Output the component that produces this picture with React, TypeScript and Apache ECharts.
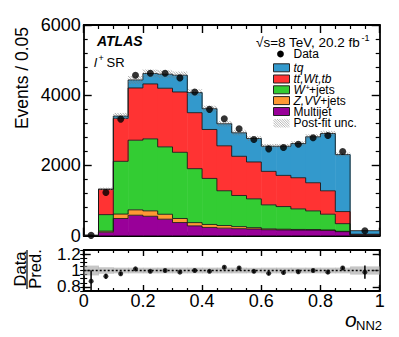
import React, { useEffect, useRef } from "react";
import * as echarts from "echarts";

const FONT = '"Liberation Sans", Arial, Helvetica, sans-serif';

// Bin edges of o_NN2 (last bin is 0.9-1.0)
const binEdges = [0, 0.05, 0.1, 0.15, 0.2, 0.25, 0.3, 0.35, 0.4, 0.45, 0.5, 0.55, 0.6, 0.65, 0.7, 0.75, 0.8, 0.85, 0.9, 1.0];

// Stacked predictions (events / 0.05)
const multijet = [3, 100, 490, 583, 553, 470, 375, 280, 235, 215, 200, 191, 170, 163, 160, 160, 150, 115, 10];
const zvvJets = [1, 30, 125, 153, 154, 140, 115, 92, 85, 75, 58, 38, 25, 22, 18, 15, 12, 10, 3];
const wJets = [2, 470, 1503, 1983, 2051, 1920, 1885, 1537, 1311, 990, 887, 821, 684, 645, 586, 532, 450, 218, 10];
const ttWtTb = [3, 720, 1222, 1488, 1564, 1669, 1718, 1594, 1394, 1280, 1116, 1050, 953, 887, 887, 801, 667, 344, 20];
const tqSig = [3, 5, 66, 229, 297, 400, 477, 572, 592, 628, 669, 668, 715, 830, 974, 1308, 1632, 1623, 100];

const dataEvents = [10, 1232, 3320, 4570, 4628, 4628, 4494, 4093, 3598, 3331, 3045, 2739, 2473, 2510, 2604, 2788, 2854, 2396, 140];
const postFitUnc = [2, 40, 90, 110, 110, 110, 100, 95, 85, 80, 75, 70, 65, 65, 65, 70, 70, 60, 6];

// Ratio panel
const ratioValues = [0.87, 0.93, 0.96, 1.02, 0.99, 1.0, 0.98, 1.0, 0.99, 1.04, 1.03, 0.99, 0.965, 0.975, 0.985, 1.0, 0.98, 1.03, 0.98];
const ratioErrors = [0.13, 0.03, 0.02, 0.015, 0.015, 0.015, 0.015, 0.015, 0.017, 0.017, 0.018, 0.019, 0.02, 0.02, 0.02, 0.019, 0.019, 0.02, 0.08];
const ratioBand = [0.06, 0.04, 0.035, 0.035, 0.035, 0.035, 0.035, 0.035, 0.035, 0.035, 0.035, 0.035, 0.035, 0.035, 0.035, 0.035, 0.035, 0.035, 0.05];

const ratioTickLabels = [0.8, 1, 1.2];

const layerDefs = [
  { name: "Multijet", values: multijet, color: "#990099" },
  { name: "Z,VV+jets", values: zvvJets, color: "#ff9933" },
  { name: "W+jets", values: wJets, color: "#33cc33" },
  { name: "tt,Wt,tb", values: ttWtTb, color: "#ff3333" },
  { name: "tq", values: tqSig, color: "#3399cc" },
];

export default function App() {
  const ref = useRef<HTMLDivElement>(null);

  useEffect(() => {
    const chart = echarts.init(ref.current!, undefined, { renderer: "svg" });
    const nBins = binEdges.length - 1;
    const centers = binEdges.slice(0, -1).map((e, i) => (e + binEdges[i + 1]) / 2);

    const series: any[] = [];
    let base = new Array(nBins).fill(0);
    const layerData: any[] = [];
    layerDefs.forEach((L) => {
      const bottoms = base;
      const tops = bottoms.map((b: number, i: number) => b + L.values[i]);
      base = tops;
      const d = tops.map((t: number, i: number) => [binEdges[i], binEdges[i + 1], bottoms[i], t, i + 1 < nBins ? tops[i + 1] : 0]);
      layerData.push(d);
      series.push({
        type: "custom", name: L.name, xAxisIndex: 0, yAxisIndex: 0, z: 2, clip: true, silent: true,
        data: d,
        renderItem: (_p: any, api: any) => {
          const tl = api.coord([api.value(0), api.value(3)]);
          const br = api.coord([api.value(1), api.value(2)]);
          return { type: "rect", shape: { x: tl[0], y: tl[1], width: br[0] - tl[0] + 0.5, height: br[1] - tl[1] }, style: { fill: L.color } };
        },
      });
    });
    layerData.forEach((d) => {
      series.push({
        type: "custom", xAxisIndex: 0, yAxisIndex: 0, z: 3, clip: true, silent: true,
        data: d,
        renderItem: (_p: any, api: any) => {
          const tl = api.coord([api.value(0), api.value(3)]);
          const br = api.coord([api.value(1), api.value(2)]);
          const nx = api.coord([api.value(1), api.value(4)]);
          const st = { stroke: "rgba(20,20,20,0.85)", lineWidth: 1 };
          return {
            type: "group", children: [
              { type: "line", shape: { x1: tl[0], y1: tl[1], x2: br[0], y2: tl[1] }, style: st },
              { type: "line", shape: { x1: br[0], y1: tl[1], x2: br[0], y2: nx[1] }, style: st },
            ],
          };
        },
      });
    });

    // post-fit uncertainty hatch
    const totals = base;
    series.push({
      type: "custom", xAxisIndex: 0, yAxisIndex: 0, z: 4, clip: true, silent: true,
      data: totals.map((t: number, i: number) => [binEdges[i], binEdges[i + 1], t - postFitUnc[i], t + postFitUnc[i]]),
      renderItem: (_p: any, api: any) => {
        const tl = api.coord([api.value(0), api.value(3)]);
        const br = api.coord([api.value(1), api.value(2)]);
        const x0 = tl[0], x1 = br[0], yT = tl[1], yB = br[1];
        const h = yB - yT;
        const children: any[] = [];
        if (h > 0.5) {
          for (let s = x0 - h; s < x1; s += 2.6) {
            const ta = Math.max(0, (x0 - s) / h);
            const tb = Math.min(1, (x1 - s) / h);
            if (tb <= ta) continue;
            children.push({
              type: "line",
              shape: { x1: s + ta * h, y1: yT + ta * h, x2: s + tb * h, y2: yT + tb * h },
              style: { stroke: "rgba(120,120,120,0.9)", lineWidth: 0.7 },
            });
          }
        }
        return { type: "group", children };
      },
    });

    series.push({
      type: "scatter", xAxisIndex: 0, yAxisIndex: 0, z: 6, silent: true,
      symbol: "circle", symbolSize: 7, itemStyle: { color: "#000" },
      data: centers.map((c, i) => [c, dataEvents[i]]),
    });

    // ratio panel
    series.push({
      type: "custom", xAxisIndex: 2, yAxisIndex: 2, z: 2, clip: true, silent: true,
      data: centers.map((_c, i) => [binEdges[i], binEdges[i + 1], 1 - ratioBand[i], 1 + ratioBand[i]]),
      renderItem: (_p: any, api: any) => {
        const tl = api.coord([api.value(0), api.value(3)]);
        const br = api.coord([api.value(1), api.value(2)]);
        return { type: "rect", shape: { x: tl[0], y: tl[1], width: br[0] - tl[0] + 0.5, height: br[1] - tl[1] }, style: { fill: "rgba(160,160,160,0.6)" } };
      },
    });
    series.push({
      type: "line", xAxisIndex: 2, yAxisIndex: 2, z: 3, silent: true, symbol: "none",
      data: [[0, 1], [1, 1]],
      lineStyle: { color: "#000", width: 1.5, type: [2, 2] },
    });
    series.push({
      type: "custom", xAxisIndex: 2, yAxisIndex: 2, z: 4, clip: true, silent: true,
      data: centers.map((c, i) => [c, ratioValues[i] - ratioErrors[i], ratioValues[i] + ratioErrors[i]]),
      renderItem: (_p: any, api: any) => {
        const a = api.coord([api.value(0), api.value(1)]);
        const b = api.coord([api.value(0), api.value(2)]);
        return { type: "line", shape: { x1: a[0], y1: a[1], x2: b[0], y2: b[1] }, style: { stroke: "#000", lineWidth: 1.5 } };
      },
    });
    series.push({
      type: "scatter", xAxisIndex: 2, yAxisIndex: 2, z: 5, silent: true,
      symbol: "circle", symbolSize: 5, itemStyle: { color: "#000" },
      data: centers.map((c, i) => [c, ratioValues[i]]),
    });

    const lineStyle = { color: "#000", width: 1.8 };
    const tickStyle = { color: "#000", width: 1.4 };
    const xAx = (grid: number, pos: string, labels: boolean) => ({
      type: "value", gridIndex: grid, position: pos, min: 0, max: 1, interval: 0.2,
      axisLine: { show: true, onZero: false, lineStyle },
      axisTick: { show: true, inside: true, length: grid === 0 ? 8 : 6, lineStyle: tickStyle },
      minorTick: { show: true, splitNumber: 4, length: grid === 0 ? 4 : 3, lineStyle: { color: "#000", width: 1.2 } },
      splitLine: { show: false }, minorSplitLine: { show: false },
      axisLabel: labels
        ? { show: true, fontSize: 18, fontFamily: FONT, color: "#000", margin: 1, formatter: (v: number) => String(Math.round(v * 10) / 10) }
        : { show: false },
    });
    const yMain = (pos: string, labels: boolean) => ({
      type: "value", gridIndex: 0, position: pos, min: 0, max: 6000, interval: 2000,
      axisLine: { show: true, onZero: false, lineStyle },
      axisTick: { show: true, inside: true, length: 8, lineStyle: tickStyle },
      minorTick: { show: true, splitNumber: 5, length: 4, lineStyle: { color: "#000", width: 1.2 } },
      splitLine: { show: false }, minorSplitLine: { show: false },
      axisLabel: labels
        ? { show: true, fontSize: 18, fontFamily: FONT, color: "#000", margin: 3, formatter: (v: number) => String(Math.round(v)) }
        : { show: false },
    });
    const yRatioMajor = (pos: string) => ({
      type: "value", gridIndex: 1, position: pos, min: 0.75, max: 1.25, interval: 0.05,
      axisLine: { show: true, onZero: false, lineStyle },
      axisTick: { show: true, inside: true, length: 7, customValues: ratioTickLabels, lineStyle: tickStyle },
      splitLine: { show: false },
      axisLabel: { show: false },
    });
    const isMajor = (v: number) => ratioTickLabels.some((m) => Math.abs(m - v) < 1e-6);
    const yRatioMinor = (pos: string, labels: boolean) => ({
      type: "value", gridIndex: 1, position: pos, min: 0.75, max: 1.25, interval: 0.05,
      axisLine: { show: false },
      axisTick: { show: true, inside: true, length: 3.5, lineStyle: { color: "#000", width: 1.1 } },
      splitLine: { show: false },
      axisLabel: labels
        ? { show: true, fontSize: 17, lineHeight: 15, fontFamily: FONT, color: "#000", margin: 3, hideOverlap: false,
            showMinLabel: false, showMaxLabel: false,
            formatter: (v: number) => (isMajor(v) ? (Math.abs(v - 1) < 1e-6 ? "1" : v.toFixed(1)) : "") }
        : { show: false },
    });

    const t = (x: number, y: number, text: string, o: any = {}, extra: any = {}) => ({
      type: "text", x, y, silent: true, ...extra,
      style: {
        text, fill: "#000", fontFamily: FONT, fontSize: 13,
        align: "left", textAlign: "left", verticalAlign: "middle", textVerticalAlign: "middle", ...o,
      },
    });

    const legendRows = [
      { y: 67.8, color: "#3399cc" },
      { y: 79, color: "#ff3333" },
      { y: 89.8, color: "#33cc33" },
      { y: 100.6, color: "#ff9933" },
      { y: 111.5, color: "#990099" },
    ];
    const hatchBox: any[] = [];
    {
      const x0 = 273.5, x1 = 289.5, yT = 119, h = 8.5;
      for (let s = x0 - h; s < x1; s += 2.4) {
        const ta = Math.max(0, (x0 - s) / h);
        const tb = Math.min(1, (x1 - s) / h);
        if (tb <= ta) continue;
        hatchBox.push({ type: "line", silent: true, shape: { x1: s + ta * h, y1: yT + ta * h, x2: s + tb * h, y2: yT + tb * h }, style: { stroke: "rgba(140,140,140,0.9)", lineWidth: 0.7 } });
      }
    }
    const LF = 12;
    const LH = 10.5;

    const graphic: any[] = [
      t(22, 78, "Events / 0.05", { fontSize: 17.5, align: "center", textAlign: "center" }, { rotation: Math.PI / 2 }),
      t(19.5, 269, "Data", { fontSize: 16.5, align: "center", textAlign: "center" }, { rotation: Math.PI / 2 }),
      t(35, 269, "Pred.", { fontSize: 16.5, align: "center", textAlign: "center" }, { rotation: Math.PI / 2 }),
      { type: "line", silent: true, shape: { x1: 27, y1: 250, x2: 27, y2: 289 }, style: { stroke: "#000", lineWidth: 1.2 } },
      t(345, 319, "o", { fontSize: 21, fontStyle: "italic" }),
      t(356, 325.5, "NN2", { fontSize: 13 }),
      t(97, 41, "ATLAS", { fontSize: 14, fontWeight: "bold", fontStyle: "italic" }),
      t(94, 62, "l", { fontSize: 13, fontStyle: "italic" }),
      t(98.5, 58, "+", { fontSize: 9 }),
      t(106.5, 62, "SR", { fontSize: 13 }),
      t(256, 42, "\u221As=8 TeV, 20.2 fb", { fontSize: 13.5 }),
      t(361.5, 37.5, "-1", { fontSize: 9 }),
      { type: "circle", silent: true, shape: { cx: 280.5, cy: 54, r: 3.4 }, style: { fill: "#000" } },
      t(293.5, 53.5, "Data", { fontSize: LF, lineHeight: LH }),
      ...legendRows.map((r) => ({ type: "rect", silent: true, shape: { x: 273.5, y: r.y - 4, width: 16, height: 8 }, style: { fill: r.color, stroke: "#222", lineWidth: 1 } })),
      t(293.5, 67.5, "tq", { fontSize: LF, lineHeight: LH, fontStyle: "italic" }),
      t(293.5, 78.8, "tt,Wt,tb", { fontSize: LF, lineHeight: LH, fontStyle: "italic" }),
      t(293.5, 89.8, "W", { fontSize: LF, lineHeight: LH, fontStyle: "italic" }),
      t(305.5, 87, "+", { fontSize: 7.5, lineHeight: 7 }),
      t(309, 89.8, "+jets", { fontSize: LF, lineHeight: LH }),
      t(293.5, 100.6, "{i|Z,VV}{n|+jets}", {
        fontSize: LF, lineHeight: LH,
        rich: { i: { fontSize: LF, lineHeight: LH, fontStyle: "italic", fontFamily: FONT }, n: { fontSize: LF, lineHeight: LH, fontFamily: FONT } },
      }),
      t(293.5, 111.5, "Multijet", { fontSize: LF, lineHeight: LH }),
      ...hatchBox,
      t(293.5, 123, "Post-fit unc.", { fontSize: LF, lineHeight: LH }),
    ];

    const option: any = {
      animation: false,
      backgroundColor: "#fff",
      grid: [
        { left: 83.7, top: 25, width: 296, height: 210.7 },
        { left: 83.7, top: 250, width: 296, height: 41 },
      ],
      xAxis: [xAx(0, "bottom", false), xAx(0, "top", false), xAx(1, "bottom", true), xAx(1, "top", false)],
      yAxis: [yMain("left", true), yMain("right", false), yRatioMajor("left"), yRatioMajor("right"), yRatioMinor("left", true), yRatioMinor("right", false)],
      series,
      graphic,
    };
    chart.setOption(option);
    return () => chart.dispose();
  }, []);

  return <div ref={ref} style={{ position: "fixed", left: 0, top: 0, width: 399, height: 337 }} />;
}
